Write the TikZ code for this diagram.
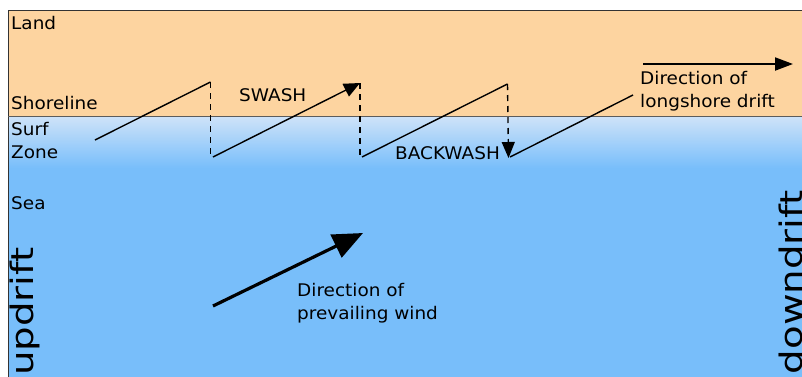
\documentclass[tikz,border=0pt]{standalone}
\usepackage{fontspec}
\setmainfont{DejaVu Sans}[FakeStretch=1.06]
\newfontfamily\bigfont{DejaVu Sans}[FakeStretch=1.25]
\usetikzlibrary{arrows.meta}
\definecolor{land}{HTML}{FDD4A0}
\definecolor{sea}{HTML}{78BEFA}
\definecolor{surf}{HTML}{CFE3F9}
\definecolor{frame}{HTML}{333333}
\begin{document}
\begin{tikzpicture}[x=1pt,y=-1pt,
  lbl/.style={inner sep=0pt, anchor=base west, font=\fontsize{17.4}{23}\selectfont},
  biglbl/.style={inner sep=0pt, rotate=90, font=\bigfont\fontsize{31}{36}\selectfont},
  flow/.style={line width=1.4pt, black},
  dashflow/.style={line width=1.4pt, black, dash pattern=on 6pt off 5pt},
  smallhead/.style={-{Triangle[length=16pt,width=14pt]}},
  wind/.style={line width=3.2pt, black, -{Triangle[length=30pt,width=25pt]}},
  drift/.style={line width=2pt, black, -{Triangle[length=18pt,width=13pt]}}]
\useasboundingbox (0,0) rectangle (802,376);
\clip (0,0) rectangle (802,376);
\fill[white] (0,0) rectangle (802,376);
% areas
\fill[land] (8,10) rectangle (803,116);
\shade[top color=surf, bottom color=sea] (8,116) rectangle (803,168);
\fill[sea] (8,167.5) rectangle (803,377);
\draw[frame, line width=1pt] (8,377) -- (8,10) -- (803,10);
\draw[frame!80, line width=1pt] (8,116) -- (803,116);
% labels
\node[lbl] (land) at (11,29) {Land};
\node[lbl] (shore) at (11,109) {Shoreline};
\node[lbl] (surf1) at (11,135.5) {Surf};
\node[lbl] (surf2) at (11,158.5) {Zone};
\node[lbl] (sea) at (11,209.5) {Sea};
\node[lbl] (swash) at (239,101.5) {SWASH};
\node[lbl] (backwash) at (395,159) {BACKWASH};
\node[lbl] (ld1) at (640,84) {Direction of};
\node[lbl] (ld2) at (640,107) {longshore drift};
\node[lbl] (pw1) at (297,296) {Direction of};
\node[lbl] (pw2) at (297,319.5) {prevailing wind};
\node[biglbl, anchor=base west] (up) at (33,376) {updrift};
\node[biglbl, anchor=base east] (down) at (802,190) {downdrift};
% zigzag coordinates
\coordinate (a1) at (95,140);
\coordinate (a2) at (210.5,82);
\coordinate (a3) at (210.5,156);
\coordinate (b1) at (213,157);
\coordinate (b2) at (360,83);
\coordinate (b3) at (360,156);
\coordinate (c1) at (362,157);
\coordinate (c2) at (507.5,84);
\coordinate (c3) at (508.5,158);
\coordinate (d1) at (510,157);
\coordinate (d2) at (633,95);
\coordinate (e1) at (643,64);
\coordinate (e2) at (793,64);
\coordinate (w1) at (213,306);
\coordinate (w2) at (363,233);
\draw[flow] (a1) -- (a2);
\draw[dashflow] (a2) -- (a3);
\draw[flow, smallhead] (b1) -- (b2);
\draw[dashflow] (b2) -- (b3);
\draw[flow] (c1) -- (c2);
\draw[dashflow, -{Triangle[length=16pt,width=13pt]}] (c2) -- (c3);
\draw[flow] (d1) -- (d2);
\draw[drift] (e1) -- (e2);
\draw[wind] (w1) -- (w2);
\end{tikzpicture}
\end{document}
